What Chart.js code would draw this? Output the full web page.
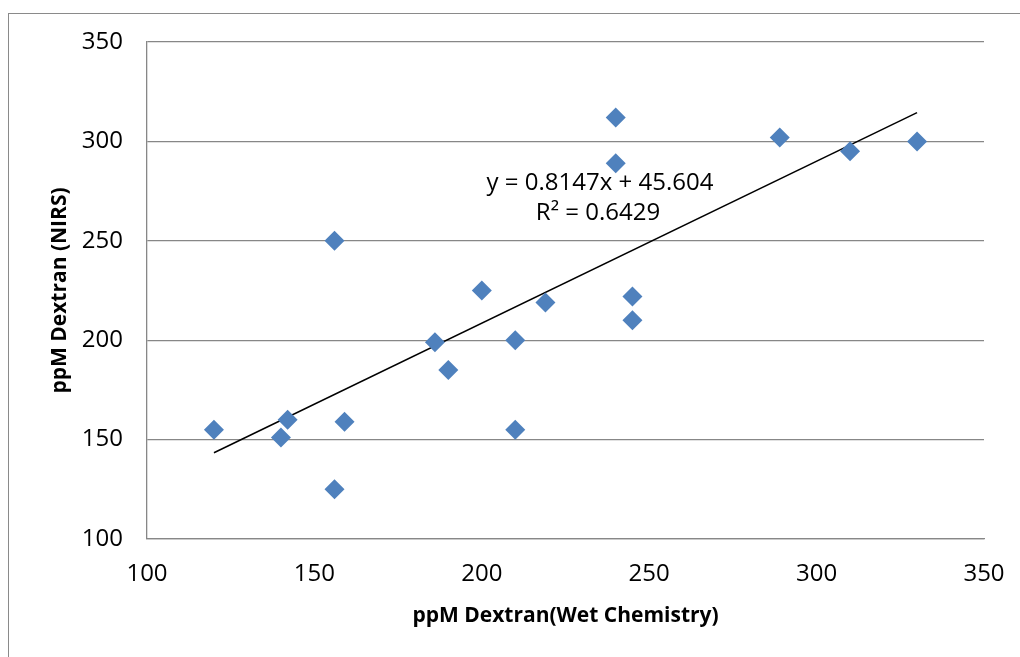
<!DOCTYPE html>
<html>
<head>
<meta charset="utf-8">
<script src="https://cdn.jsdelivr.net/npm/chart.js@4/dist/chart.umd.min.js"></script>
<style>
    html, body { margin: 0; padding: 0; background: #fff; overflow: hidden; }
    #wrap { position: relative; width: 1020px; height: 657px; }
    #frame { position: absolute; left: 8px; top: 13px; width: 1100px; height: 700px; border-left: 1.5px solid #8a8a8a; border-top: 1.5px solid #8a8a8a; }
    canvas { position: absolute; left: 0; top: 0; }
</style>
</head>
<body>
<div id="wrap">
    <div id="frame"></div>
    <canvas id="chart" width="1020" height="657"></canvas>
</div>
<script>
    // wet chemistry (x) vs NIRS (y), ppM dextran
    const wetChem = [120, 140, 142, 156, 156, 159, 186, 190, 200, 210, 210, 219, 240, 240, 245, 245, 289, 310, 330];
    const nirs    = [155, 151, 160, 250, 125, 159, 199, 185, 225, 200, 155, 219, 312, 289, 222, 210, 302, 295, 300];

    // trendline end points as drawn
    const trendX = [120, 330];
    const trendY = [143.4, 314.5];

    const eqLines = ['y = 0.8147x + 45.604', 'R\u00b2 = 0.6429'];

    const FONT = "'Open Sans', sans-serif";
    const GRID = '#878787';

    const labelPlugin = {
        id: 'eqLabel',
        afterDatasetsDraw(chart) {
            const ctx = chart.ctx;
            ctx.save();
            ctx.font = '24px ' + FONT;
            ctx.fillStyle = '#000';
            ctx.textAlign = 'center';
            ctx.textBaseline = 'middle';
            ctx.fillText(eqLines[0], 600, 183);
            ctx.fillText(eqLines[1], 598, 213);
            ctx.restore();
        }
    };

    new Chart(document.getElementById('chart').getContext('2d'), {
        type: 'scatter',
        data: {
            datasets: [{
                label: 'data',
                data: wetChem.map((x, i) => ({ x: x, y: nirs[i] })),
                pointStyle: 'rectRot',
                pointRadius: 10,
                pointHoverRadius: 10,
                backgroundColor: '#4F81BD',
                borderColor: '#4F81BD',
                borderWidth: 0
            }, {
                type: 'line',
                label: 'trend',
                data: trendX.map((x, i) => ({ x: x, y: trendY[i] })),
                borderColor: '#000',
                borderWidth: 1.5,
                pointRadius: 0,
                fill: false
            }]
        },
        options: {
            responsive: false,
            animation: false,
            devicePixelRatio: 1,
            layout: { padding: { left: 0, top: 42, right: 36, bottom: 0 } },
            plugins: { legend: { display: false }, tooltip: { enabled: false } },
            scales: {
                x: {
                    type: 'linear', min: 100, max: 350,
                    ticks: { stepSize: 50, padding: 21, color: '#000', font: { family: FONT, size: 24 } },
                    grid: { display: false, drawTicks: false },
                    border: { display: true, color: GRID, width: 1.3 },
                    title: { display: true, text: 'ppM Dextran(Wet Chemistry)', color: '#000',
                             font: { family: FONT, size: 21, weight: 'bold' }, padding: { top: 0, bottom: 28 } },
                    afterFit(scale) {
                        scale.height = 657 - 539;
                        scale.paddingLeft = 0;
                        scale.paddingRight = 0;
                    }
                },
                y: {
                    type: 'linear', min: 100, max: 350,
                    ticks: { stepSize: 50, padding: 24, color: '#000', font: { family: FONT, size: 24 } },
                    grid: { color: GRID, lineWidth: 1.3, drawTicks: false },
                    border: { display: true, color: GRID, width: 1.3 },
                    title: { display: true, text: 'ppM Dextran (NIRS)', color: '#000',
                             font: { family: FONT, size: 21, weight: 'bold' }, padding: { top: 47, bottom: 0 } },
                    afterFit(scale) {
                        scale.width = 147;
                        scale.paddingTop = 0;
                        scale.paddingBottom = 0;
                    }
                }
            }
        },
        plugins: [labelPlugin]
    });
</script>
</body>
</html>
